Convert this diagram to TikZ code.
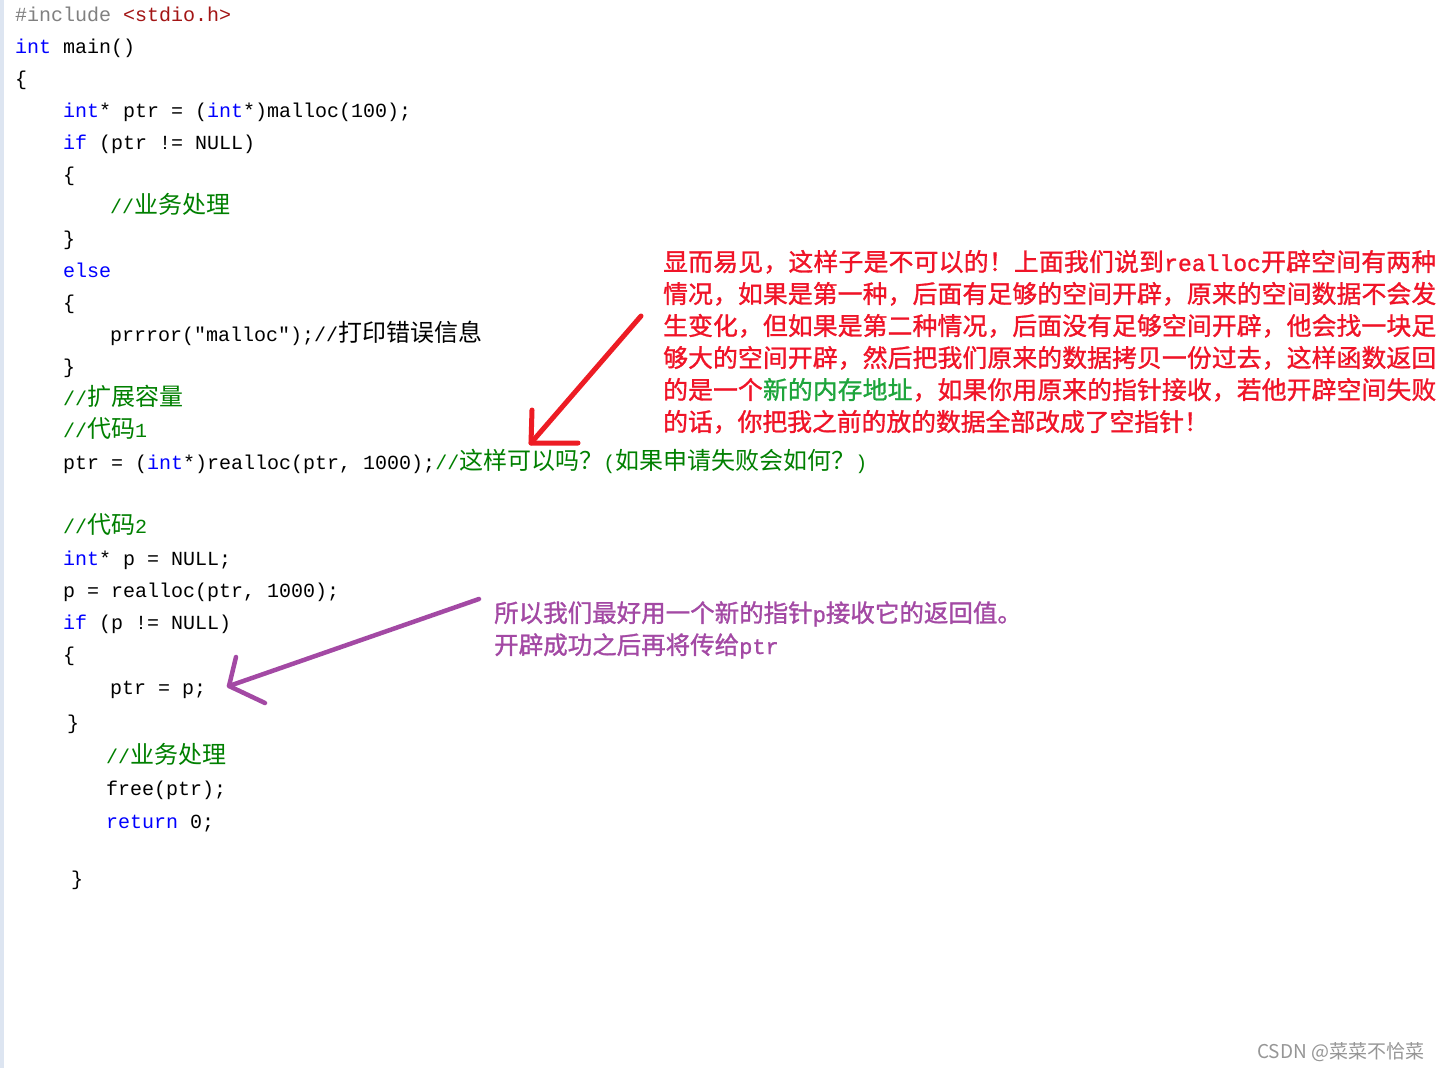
\documentclass[tikz,border=0pt]{standalone}
\usepackage{fontspec}
\setmonofont{Liberation Mono}
\newfontfamily\cjk{Noto Sans CJK SC}
\newfontfamily\cjkb[FakeBold=1.2]{Noto Sans CJK SC}
\newfontfamily\monob[FakeBold=1.2]{Liberation Mono}
\definecolor{kw}{RGB}{0,0,255}
\definecolor{cm}{RGB}{0,128,0}
\definecolor{pp}{RGB}{128,128,128}
\definecolor{st}{RGB}{163,21,21}
\definecolor{ann}{RGB}{240,20,40}
\definecolor{anng}{RGB}{30,165,60}
\definecolor{purp}{RGB}{163,73,164}
\definecolor{arrred}{RGB}{237,28,36}
\definecolor{barc}{RGB}{221,229,241}
\definecolor{wmc}{RGB}{150,150,150}
% inter-character glue for justified CJK lines
\count255="4E00
\loop\ifnum\count255<"A000 \XeTeXcharclass\count255=200 \advance\count255 by 1 \repeat
\XeTeXcharclass"FF0C=200
\XeTeXcharclass"FF01=200
\XeTeXcharclass"3002=200
\XeTeXcharclass"FF1F=200
\XeTeXinterchartoks 200 200 = {\hskip 0pt plus 1pt\relax}
\newcommand\kw[1]{\textcolor{kw}{#1}}
\newcommand\zh[1]{{\cjk\fontsize{24}{24}\selectfont #1}}
\newcommand\cmt[1]{\textcolor{cm}{#1}}
\newcommand\jline[1]{\makebox[773pt][s]{\XeTeXinterchartokenstate=1 #1}}
\newcommand\jg{\hskip 0pt plus 1pt\relax}
\newcommand\redlat[1]{{\monob\fontsize{23}{23}\selectfont #1}}
\newcommand\purlat[1]{{\monob\fontsize{22}{22}\selectfont #1}}
\tikzset{
  code/.style={anchor=base west, inner sep=0pt, text=black,
    font=\ttfamily\fontsize{20}{24}\selectfont},
  annote/.style={anchor=base west, inner sep=0pt, text=ann,
    font=\cjkb\fontsize{24.8}{24.8}\selectfont},
  pnote/.style={anchor=base west, inner sep=0pt, text=purp,
    font=\cjkb\fontsize{24.5}{24.5}\selectfont},
  redpen/.style={draw=arrred, line width=5pt, line cap=round, line join=round},
  purppen/.style={draw=purp, line width=4.5pt, line cap=round, line join=round},
}
\begin{document}
\begin{tikzpicture}[x=1pt,y=-1pt]
\useasboundingbox (0,0) rectangle (1443,1068);
\fill[white] (0,0) rectangle (1443,1068);
\fill[barc] (0,0) rectangle (4,1068);
% code
\node[code] (l1) at (15,21) {\textcolor{pp}{\#include} \textcolor{st}{<stdio.h>}};
\node[code] (l2) at (15,53) {\kw{int} main()};
\node[code] (l3) at (15,85) {\{};
\node[code] (l4) at (63,117) {\kw{int}* ptr = (\kw{int}*)malloc(100);};
\node[code] (l5) at (63,149) {\kw{if} (ptr != NULL)};
\node[code] (l6) at (63,181) {\{};
\node[code] (l7) at (110,213) {\cmt{//\zh{业务处理}}};
\node[code] (l8) at (63,245) {\}};
\node[code] (l9) at (63,277) {\kw{else}};
\node[code] (l10) at (63,309) {\{};
\node[code] (l11) at (110,341) {prrror("malloc");//\zh{打印错误信息}};
\node[code] (l12) at (63,373) {\}};
\node[code] (l13) at (63,405) {\cmt{//\zh{扩展容量}}};
\node[code] (l14) at (63,437) {\cmt{//\zh{代码}1}};
\node[code] (l15) at (63,469) {ptr = (\kw{int}*)realloc(ptr, 1000);\cmt{//\zh{这样可以吗？}(\zh{如果申请失败会如何？})}};
\node[code] (l17) at (63,533) {\cmt{//\zh{代码}2}};
\node[code] (l18) at (63,565) {\kw{int}* p = NULL;};
\node[code] (l19) at (63,597) {p = realloc(ptr, 1000);};
\node[code] (l20) at (63,629) {\kw{if} (p != NULL)};
\node[code] (l21) at (63,661) {\{};
\node[code] (l22) at (110,694) {ptr = p;};
\node[code] (l23) at (67,729) {\}};
\node[code] (l24) at (106,763) {\cmt{//\zh{业务处理}}};
\node[code] (l25) at (106,795) {free(ptr);};
\node[code] (l26) at (106,828) {\kw{return} 0;};
\node[code] (l28) at (71,885) {\}};
% red annotation
\node[annote] (a1) at (663,271) {\jline{显而易见，这样子是不可以的！上面我们说到\jg\redlat{realloc}\jg 开辟空间有两种}};
\node[annote] (a2) at (663,303) {\jline{情况，如果是第一种，后面有足够的空间开辟，原来的空间数据不会发}};
\node[annote] (a3) at (663,335) {\jline{生变化，但如果是第二种情况，后面没有足够空间开辟，他会找一块足}};
\node[annote] (a4) at (663,367) {\jline{够大的空间开辟，然后把我们原来的数据拷贝一份过去，这样函数返回}};
\node[annote] (a5) at (663,399) {\jline{的是一个\jg\textcolor{anng}{新的内存地址}\jg，如果你用原来的指针接收，若他开辟空间失败}};
\node[annote] (a6) at (663,431) {的话，你把我之前的放的数据全部改成了空指针！};
% purple annotation
\node[pnote] (b1) at (494,622) {所以我们最好用一个新的指针\purlat{p}接收它的返回值。};
\node[pnote] (b2) at (494,654) {开辟成功之后再将传给\purlat{ptr}};
% watermark
\node[anchor=base west, inner sep=0pt, text=wmc, font=\cjk\fontsize{19}{19}\selectfont] (wm) at (1257,1058) {CSDN @菜菜不恰菜};
% red arrow
\coordinate (r1) at (641,316);
\coordinate (r2) at (531,443);
\coordinate (r3) at (532,410);
\coordinate (r4) at (578,443);
\draw[redpen] (r1) -- (r2);
\draw[redpen] (r3) -- (r2) -- (r4);
% purple arrow
\coordinate (p1) at (479,599);
\coordinate (p2) at (229,686);
\coordinate (p3) at (236,657);
\coordinate (p4) at (265,703);
\draw[purppen] (p1) -- (p2);
\draw[purppen] (p3) -- (p2) -- (p4);
\end{tikzpicture}
\end{document}
